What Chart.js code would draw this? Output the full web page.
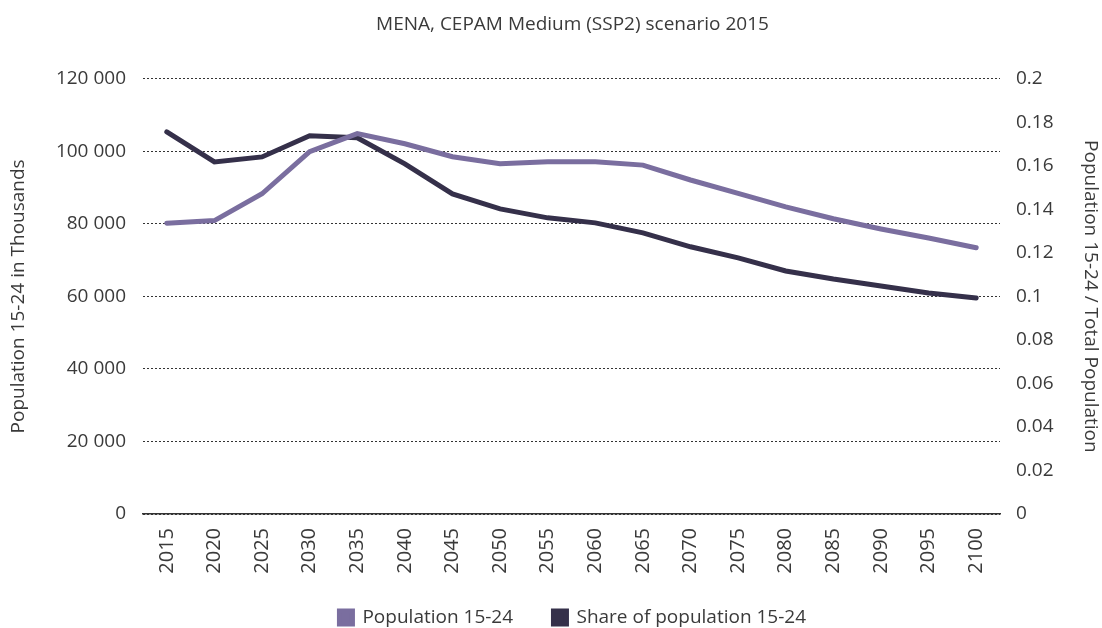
<!DOCTYPE html>
<html>
<head>
<meta charset="utf-8">
<script src="https://cdn.jsdelivr.net/npm/chart.js@4"></script>
<style>
  html, body { margin: 0; padding: 0; background: #fff; }
  #wrap { width: 1102px; height: 628px; }
</style>
</head>
<body>
<div id="wrap"><canvas id="chart" width="1102" height="628"></canvas></div>
<script>
// ============================
// Data
// ============================
const years = ['2015', '2020', '2025', '2030', '2035', '2040', '2045', '2050', '2055',
               '2060', '2065', '2070', '2075', '2080', '2085', '2090', '2095', '2100'];

// thousands
const population = [80200, 80900, 88300, 99900, 104900, 102100, 98500, 96600, 97100,
                    97100, 96200, 92100, 88400, 84700, 81400, 78600, 76100, 73400];

// share of total population
const share = [0.1756, 0.1618, 0.1641, 0.1738, 0.1729, 0.1609, 0.1471, 0.1402, 0.1361,
               0.1338, 0.1292, 0.1228, 0.1177, 0.1117, 0.1080, 0.1048, 0.1016, 0.0993];

const lightPurple = '#7a6e9f';
const darkPurple  = '#35304a';
const textColor   = '#3a3a3a';
const fontFamily  = '"Open Sans", "DejaVu Sans", sans-serif';
const fontSize    = 19;

// ============================
// Chart
// ============================
const ctx = document.getElementById('chart').getContext('2d');

new Chart(ctx, {
    type: 'line',
    data: {
        labels: years,
        datasets: [
            {
                label: 'Population 15-24',
                data: population,
                yAxisID: 'y',
                borderColor: lightPurple,
                backgroundColor: lightPurple,
                borderWidth: 5,
                pointRadius: 0,
                tension: 0,
                borderCapStyle: 'round'
            },
            {
                label: 'Share of population 15-24',
                data: share,
                yAxisID: 'y1',
                borderColor: darkPurple,
                backgroundColor: darkPurple,
                borderWidth: 5,
                pointRadius: 0,
                tension: 0,
                borderCapStyle: 'round'
            }
        ]
    },
    options: {
        responsive: false,
        animation: false,
        // title and legend sit a little right of the canvas centre
        layout: { padding: { top: 0, left: 43, bottom: -9 } },
        plugins: {
            title: {
                display: true,
                text: 'MENA, CEPAM Medium (SSP2) scenario 2015',
                color: textColor,
                font: { family: fontFamily, size: 19, weight: 'normal' },
                padding: { top: 13, bottom: 43 }
            },
            legend: {
                position: 'bottom',
                labels: {
                    color: textColor,
                    font: { family: fontFamily, size: fontSize },
                    usePointStyle: true,
                    pointStyle: 'rect',
                    boxWidth: 14,
                    boxHeight: 13,
                    padding: 30,
                    // widen the gap between the two entries a bit
                    generateLabels: (chart) => {
                        const items = Chart.defaults.plugins.legend.labels.generateLabels(chart);
                        items[0].text = items[0].text + '  ';
                        return items;
                    }
                }
            },
            tooltip: { enabled: false }
        },
        scales: {
            x: {
                offset: true,
                afterFit: (scale) => { scale.height = 64; },
                grid: { display: false, drawTicks: false },
                border: { display: true, color: '#333', width: 1.5 },
                ticks: {
                    color: textColor,
                    font: { family: fontFamily, size: 20 },
                    minRotation: 90,
                    maxRotation: 90,
                    padding: 14
                }
            },
            y: {
                position: 'left',
                min: 0,
                max: 120000,
                afterFit: (scale) => { scale.width = 100; },
                ticks: {
                    stepSize: 20000,
                    color: textColor,
                    font: { family: fontFamily, size: fontSize },
                    padding: 17,
                    callback: (v) => v.toLocaleString('en-US').replace(/,/g, ' ')
                },
                grid: {
                    color: '#333',
                    lineWidth: 1,
                    drawTicks: false
                },
                border: { display: false, dash: [2, 2] },
                title: {
                    display: true,
                    text: 'Population 15-24 in Thousands',
                    color: textColor,
                    font: { family: fontFamily, size: fontSize },
                    padding: { top: -36, bottom: 0 }
                }
            },
            y1: {
                position: 'right',
                min: 0,
                max: 0.2,
                afterFit: (scale) => { scale.width = 102; },
                ticks: {
                    stepSize: 0.02,
                    color: textColor,
                    font: { family: fontFamily, size: fontSize },
                    padding: 16,
                    callback: (v) => String(Number(v.toFixed(2)))
                },
                grid: { display: false, drawTicks: false },
                border: { display: false },
                title: {
                    display: true,
                    text: 'Population 15-24 / Total Population',
                    color: textColor,
                    font: { family: fontFamily, size: fontSize },
                    padding: { top: 0, bottom: 0 }
                }
            }
        }
    }
});
</script>
</body>
</html>
